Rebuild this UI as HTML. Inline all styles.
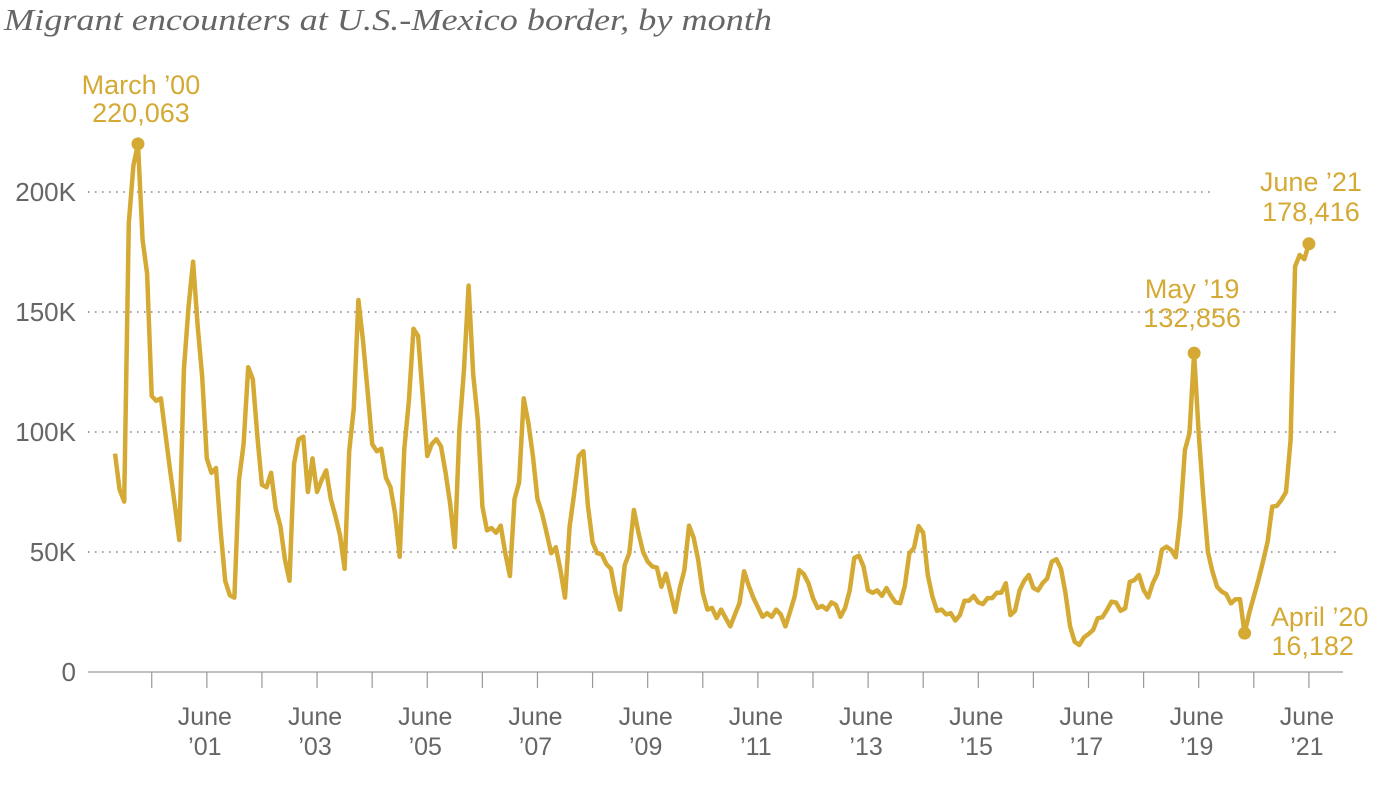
<!DOCTYPE html>
<html><head><meta charset="utf-8">
<style>
html,body{margin:0;padding:0;background:#fff;}
svg{display:block;}
text{font-family:"Liberation Sans",sans-serif;}
</style></head>
<body>
<svg id="chart" width="1399" height="789" viewBox="0 0 1399 789">
<text x="4" y="30" font-style="italic" font-size="31" fill="#666" textLength="768" lengthAdjust="spacingAndGlyphs" style="font-family:'Liberation Serif',serif">Migrant encounters at U.S.-Mexico border, by month</text>
<g id="grid"></g>
<g id="yaxis"></g>
<g id="xaxis"></g>
<g id="series"></g>
<g id="annots"></g>
</svg>
<script>
// Monthly encounters (thousands), Oct 1999 .. June 2021
const values = [91,76,71,187,211,220.063,180,166,115,113,114,99,84,70,55,126,152,171,144,123,89,83,85,59,38,32,31,80,95,127,122,98,78,77,83,68,61,47,38,87,97,98,75,89,75,80,84,72,65,57,43,92,110,155,138,117,95,92,93,81,77,66,48,93,113,143,140,115,90,95,97,94,83,70,52,101,126,161,124,105,69,59,60,58,61,49.5,40,72,79,114,104,90,72,66,58,
49.5,52,42.5,31,60.5,74.5,90,92,69,54,49.5,49,45,43,33,26,44.5,49.5,67.5,58,50,46,44,43.5,35.5,41,33,25,35,42.5,61,56,46.7,33,26,26.7,22.5,26,22.5,19,24,28.7,42,36,31,27,23,24.5,23,26,24,19,25,31.4,42.5,40.8,37,30.8,26.7,27.5,26,29,28,23,26.7,34,47.5,48.5,44,34,33,34,31.7,35,31.7,29,28.7,35.8,49.5,51.7,60.8,58,40.4,31.4,25.5,26,24,24.5,21.4,23.7,29.7,29.7,31.7,29,28.3,30.8,
30.8,33,33,37,23.7,25.5,34,38,40.4,35,34,37,39,46,47,43,32.8,19,12.6,11.25,14.4,15.8,17.5,22.4,22.8,25.8,29.3,28.9,25.5,26.5,37.6,38.3,40.4,34.2,31.1,37,41,51,52.2,50.8,47.8,64.7,92.5,99.5,132.856,99.5,73,50,41.8,35.5,33.5,32.4,28.6,30.3,30.3,16.182,24.5,31.4,38.3,46,54.3,68.9,69.2,71.7,75,96.7,169,173.75,172,178.416];
const yTicks = [0,50,100,150,200];
const yTickLabels = ["0","50K","100K","150K","200K"];
const xLabelYears = ["'01","'03","'05","'07","'09","'11","'13","'15","'17","'19","'21"];
const xLabelMonths = [20,44,68,92,116,140,164,188,212,236,260];
const annotIdx = [5,235,246,260];
const annotTitles = ["March \u201900","May \u201919","April \u201920","June \u201921"];
const annotValues = ["220,063","132,856","16,182","178,416"];

const NS="http://www.w3.org/2000/svg";
const xs = m => 115 + m*4.592;
const ys = v => 672 - v*2.4;
const gold="#d4aa35";
function mk(tag, attrs, parent){const e=document.createElementNS(NS,tag);for(const k in attrs)e.setAttribute(k,attrs[k]);parent.appendChild(e);return e;}
const grid=document.getElementById('grid'), yax=document.getElementById('yaxis'), xax=document.getElementById('xaxis'), ser=document.getElementById('series'), an=document.getElementById('annots');

yTicks.forEach((t,i)=>{
  if(t>0){
    const g=mk('line',{x1:88,x2:(t===200?1210:1340),y1:ys(t),y2:ys(t),stroke:"#888","stroke-width":1.6,"stroke-dasharray":"1.6 5.4"},grid);
    
    
  }
  const tx=mk('text',{x:76,y:ys(t)+9,"text-anchor":"end","font-size":26,fill:"#666"},yax);
  tx.textContent=yTickLabels[i];
  
  
});
const base=mk('line',{x1:88,x2:1343,y1:ys(0),y2:ys(0),stroke:"#999","stroke-width":1.2},xax);


for(let m=8;m<=260;m+=12){
  const tk=mk('line',{x1:xs(m),x2:xs(m),y1:672,y2:688,stroke:"#999","stroke-width":1.2},xax);
  
  
}
xLabelMonths.forEach((m,i)=>{
  const t1=mk('text',{x:xs(m)-2,y:725,"text-anchor":"middle","font-size":25,fill:"#666"},xax);
  t1.textContent="June";
  
  
  const t2=mk('text',{x:xs(m)-2,y:755,"text-anchor":"middle","font-size":25,fill:"#666"},xax);
  t2.textContent=xLabelYears[i].replace("'","\u2019");
  
  
});
const d=values.map((v,i)=>(i?'L':'M')+xs(i).toFixed(1)+','+ys(v).toFixed(1)).join('');
const p=mk('path',{d:d,fill:"none",stroke:gold,"stroke-width":4.5,"stroke-linejoin":"round"},ser);


// [title dx, title dy, value dx, value dy]
const offs=[[3,-50,3,-22],[-2,-55,-2,-26],[75,-7,68,22],[2,-53,2,-23]];
annotIdx.forEach((m,i)=>{
  const cx=xs(m), cy=ys(values[m]);
  const c=mk('circle',{cx:cx,cy:cy,r:6.5,fill:gold},an);
  
  
  const o=offs[i];
  const a=mk('text',{x:cx+o[0],y:cy+o[1],"text-anchor":"middle","font-size":27,fill:gold},an);
  a.textContent=annotTitles[i];
  
  
  const b=mk('text',{x:cx+o[2],y:cy+o[3],"text-anchor":"middle","font-size":27,fill:gold},an);
  b.textContent=annotValues[i];
  
  
});
</script>
</body></html>
